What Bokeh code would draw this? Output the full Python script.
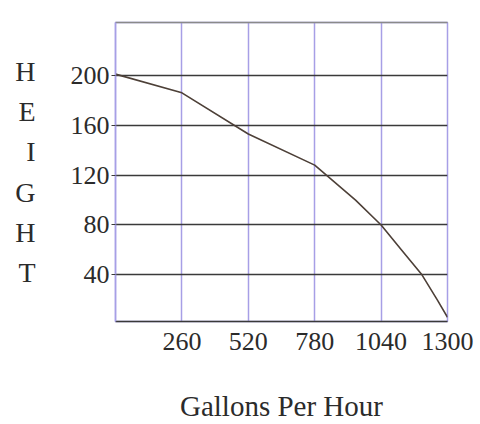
from bokeh.plotting import figure
from bokeh.models import FixedTicker, LinearAxis, Range1d
from bokeh.embed import file_html
from bokeh.resources import INLINE

# Data
gallons = [0, 260, 520, 780, 940, 1040, 1120, 1200, 1260, 1300]
height = [201, 186, 153, 128, 100, 80, 60, 40, 20, 6]
x_ticks = [260, 520, 780, 1040, 1300]
y_ticks = [40, 80, 120, 160, 200]
x_title = "Gallons Per Hour"
y_title = "H\nE\nI\nG\nH\nT"

FONT = "Liberation Serif"
TXT = "#2b2b2b"
BLUE = "#a79fe6"
DARK = "#3a3a3a"

p = figure(width=478, height=424, output_backend="svg", toolbar_location=None,
           x_range=Range1d(0, 1300), y_range=Range1d(2.6, 242.4))
p.min_border_left = 115
p.min_border_right = 31
p.min_border_top = 22
p.min_border_bottom = 102
p.background_fill_color = "white"
p.border_fill_color = "white"
p.outline_line_color = BLUE
p.outline_line_width = 1.5

p.xaxis.ticker = FixedTicker(ticks=x_ticks)
p.yaxis.ticker = FixedTicker(ticks=y_ticks)
p.xgrid.ticker = FixedTicker(ticks=x_ticks)
p.ygrid.ticker = FixedTicker(ticks=y_ticks)
p.xgrid.grid_line_color = BLUE
p.xgrid.grid_line_width = 1.5
p.ygrid.grid_line_color = DARK
p.ygrid.grid_line_width = 1.5

for ax in (p.xaxis[0], p.yaxis[0]):
    ax.major_label_text_font = FONT
    ax.major_label_text_font_size = "26px"
    ax.major_label_text_color = TXT
    ax.minor_tick_line_color = None
    ax.axis_label_text_font = FONT
    ax.axis_label_text_font_style = "normal"
    ax.axis_label_text_color = TXT

p.xaxis.axis_line_color = DARK
p.xaxis.axis_line_width = 1.5
p.xaxis.major_tick_line_color = None
p.xaxis.major_tick_out = 0
p.xaxis.major_label_standoff = 11
p.xaxis.axis_label = x_title
p.xaxis.axis_label_text_font_size = "29px"
p.xaxis.axis_label_standoff = 37

p.yaxis.axis_line_color = BLUE
p.yaxis.axis_line_width = 1.5
p.yaxis.major_tick_line_color = DARK
p.yaxis.major_tick_in = 0
p.yaxis.major_tick_out = 4
p.yaxis.major_label_standoff = 2
p.yaxis.axis_label = y_title
p.yaxis.axis_label_orientation = "horizontal"
p.yaxis.axis_label_text_font_size = "28px"
p.yaxis.axis_label_text_line_height = 1.3
p.yaxis.axis_label_text_align = "center"
p.yaxis.axis_label_standoff = 32

top = LinearAxis(axis_line_color="#8a8a8a", axis_line_width=1.5,
                 major_tick_line_color=None, minor_tick_line_color=None,
                 major_label_text_font_size="0px", major_label_text_color=None,
                 ticker=FixedTicker(ticks=[]))
p.add_layout(top, "above")

p.line(gallons, height, line_color="#4d4038", line_width=1.6)

open("out.html", "w").write(file_html(p, INLINE))
